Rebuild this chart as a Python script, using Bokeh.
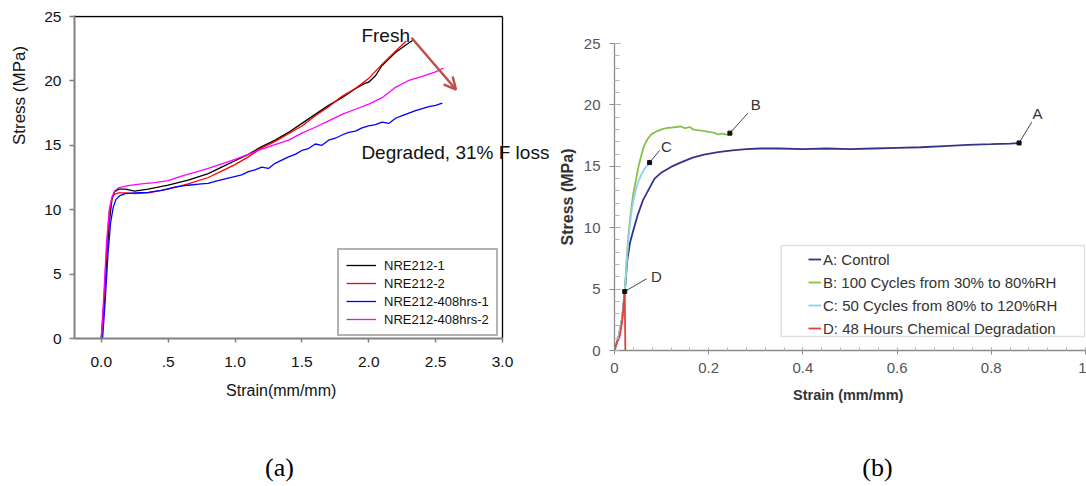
import math
from bokeh.plotting import figure
from bokeh.layouts import row, column
from bokeh.models import (Range1d, FixedTicker, Legend, LegendItem, Label, Arrow,
                          OpenHead, BoxAnnotation)
from bokeh.embed import file_html
from bokeh.resources import INLINE

# ================= Panel (a) data =================
a_x_ticks = [0.0, 0.5, 1.0, 1.5, 2.0, 2.5, 3.0]
a_x_tick_labels = ["0.0", ".5", "1.0", "1.5", "2.0", "2.5", "3.0"]
a_y_ticks = [0, 5, 10, 15, 20, 25]
a_x_start = -0.2
a_names = ["NRE212-1", "NRE212-2", "NRE212-408hrs-1", "NRE212-408hrs-2"]
a_colors = ["#000000", "#ff0000", "#0000ff", "#ff00ff"]

nre1_strain = [0.0, 0.02, 0.04, 0.06, 0.08, 0.10, 0.13, 0.18, 0.25, 0.35, 0.5, 0.65, 0.8, 0.9,
               1.0, 1.1, 1.2, 1.3, 1.4, 1.5, 1.6, 1.7, 1.8, 1.9, 1.97, 2.0, 2.05, 2.1, 2.2,
               2.28, 2.33]
nre1_stress = [0.0, 2.5, 6.0, 9.0, 10.8, 11.4, 11.6, 11.6, 11.45, 11.6, 11.9, 12.3, 12.8, 13.3,
               13.8, 14.3, 14.9, 15.4, 16.0, 16.7, 17.4, 18.1, 18.7, 19.4, 19.8, 19.9, 20.4,
               21.2, 22.2, 22.8, 23.15]

nre2_strain = [0.0, 0.02, 0.04, 0.06, 0.08, 0.10, 0.13, 0.18, 0.25, 0.35, 0.5, 0.65, 0.8, 0.9,
               1.0, 1.1, 1.2, 1.3, 1.4, 1.5, 1.6, 1.7, 1.8, 1.9, 2.0, 2.1, 2.2, 2.28]
nre2_stress = [0.0, 3.0, 7.0, 9.8, 10.9, 11.2, 11.3, 11.3, 11.25, 11.3, 11.6, 12.0, 12.5, 13.0,
               13.5, 14.1, 14.8, 15.3, 15.9, 16.5, 17.3, 18.0, 18.8, 19.4, 20.2, 21.3, 22.3,
               23.1]

deg1_strain = [0.01, 0.03, 0.05, 0.07, 0.09, 0.11, 0.14, 0.18, 0.25, 0.35,
               0.45, 0.55, 0.65, 0.75, 0.8, 0.85, 0.95, 1.05, 1.1, 1.15,
               1.2, 1.25, 1.3, 1.35, 1.4, 1.45, 1.5, 1.55, 1.6, 1.65,
               1.7, 1.75, 1.8, 1.85, 1.9, 1.95, 2.0, 2.05, 2.1, 2.15,
               2.2, 2.25, 2.3, 2.35, 2.4, 2.45, 2.5, 2.55]
deg1_stress = [0.0, 3.0, 6.5, 9.0, 10.2, 10.8, 11.1, 11.25, 11.3, 11.35,
               11.5, 11.75, 11.9, 12.0, 12.05, 12.2, 12.45, 12.7, 12.95, 13.1,
               13.3, 13.2, 13.6, 13.85, 14.1, 14.3, 14.6, 14.75, 15.1, 15.0,
               15.4, 15.55, 15.8, 16.0, 16.1, 16.35, 16.5, 16.6, 16.8, 16.7,
               17.1, 17.3, 17.5, 17.7, 17.85, 18.0, 18.1, 18.28]

deg2_strain = [0.0, 0.02, 0.04, 0.06, 0.08, 0.10, 0.13, 0.2, 0.3, 0.4, 0.5, 0.6, 0.7, 0.8, 0.9,
               1.0, 1.1, 1.2, 1.3, 1.4, 1.5, 1.6, 1.7, 1.8, 1.9, 2.0, 2.1, 2.2, 2.3, 2.4, 2.5,
               2.56]
deg2_stress = [0.0, 3.5, 7.5, 10.0, 11.0, 11.45, 11.7, 11.87, 12.0, 12.1, 12.25, 12.6, 12.9,
               13.2, 13.55, 13.9, 14.3, 14.7, 15.05, 15.4, 15.95, 16.4, 16.9, 17.4, 17.8, 18.2,
               18.7, 19.5, 20.05, 20.35, 20.7, 21.0]

a_curves = [(nre1_strain, nre1_stress), (nre2_strain, nre2_stress),
            (deg1_strain, deg1_stress), (deg2_strain, deg2_stress)]

a_fresh_text = "Fresh"
a_fresh_xy = (1.945, 23.5)
a_degraded_text = "Degraded, 31% F loss"
a_degraded_xy = (1.945, 14.46)
a_arrow_start = (2.32, 23.35)
a_arrow_end = (2.652, 19.33)

# ================= Panel (b) data =================
b_x_ticks = [0.0, 0.2, 0.4, 0.6, 0.8, 1.0]
b_x_tick_labels = ["0", "0.2", "0.4", "0.6", "0.8", "1"]
b_y_ticks = [0, 5, 10, 15, 20, 25]
b_names = ["A: Control", "B: 100 Cycles from 30% to 80%RH",
           "C: 50 Cycles from 80% to 120%RH", "D: 48 Hours Chemical Degradation"]
b_letters = ["A", "B", "C", "D"]
b_colors = ["#34338a", "#84c24a", "#8fd2ee", "#e2423a"]

ctrl_strain = [0.0, 0.008, 0.016, 0.022, 0.027, 0.033, 0.04, 0.049, 0.06, 0.071, 0.085, 0.1,
               0.12, 0.14, 0.166, 0.19, 0.22, 0.25, 0.28, 0.31, 0.35, 0.4, 0.45, 0.5, 0.55,
               0.6, 0.65, 0.7, 0.75, 0.8, 0.84, 0.859]
ctrl_stress = [0.0, 1.0, 2.6, 4.8, 7.3, 8.8, 9.8, 11.0, 12.2, 13.0, 14.0, 14.5, 14.95, 15.3,
               15.7, 15.95, 16.15, 16.3, 16.4, 16.45, 16.45, 16.4, 16.45, 16.4, 16.45, 16.5,
               16.55, 16.65, 16.75, 16.8, 16.85, 16.9]

rh1_strain = [0.0, 0.008, 0.016, 0.022, 0.026, 0.03, 0.035, 0.04, 0.046, 0.051, 0.057, 0.062,
              0.07, 0.078, 0.09, 0.1, 0.11, 0.12, 0.132, 0.14, 0.15, 0.16, 0.167, 0.175,
              0.185, 0.2, 0.21, 0.22, 0.23, 0.24, 0.245]
rh1_stress = [0.0, 1.0, 2.6, 4.8, 7.5, 9.6, 11.4, 12.8, 14.0, 15.0, 15.9, 16.6, 17.2, 17.6,
              17.85, 18.0, 18.1, 18.15, 18.2, 18.25, 18.1, 18.2, 18.0, 17.95, 17.9, 17.8,
              17.75, 17.6, 17.66, 17.55, 17.7]

rh2_strain = [0.0, 0.008, 0.016, 0.022, 0.026, 0.03, 0.035, 0.04, 0.046, 0.052, 0.058, 0.064,
              0.07, 0.0745]
rh2_stress = [0.0, 1.0, 2.6, 4.8, 7.3, 9.3, 11.0, 12.2, 13.2, 13.9, 14.4, 14.8, 15.1, 15.3]

chem_strain = [0.0, 0.005, 0.01, 0.0126, 0.016, 0.018, 0.02, 0.0217, 0.0225, 0.023]
chem_stress = [0.0, 0.7, 1.0, 1.5, 2.3, 3.0, 4.0, 4.8, 2.0, 0.0]

b_curves = [(ctrl_strain, ctrl_stress), (rh1_strain, rh1_stress),
            (rh2_strain, rh2_stress), (chem_strain, chem_stress)]

# letter label positions and leader-line ends (data units)
b_letter_x = [0.898, 0.300, 0.110, 0.089]
b_letter_y = [19.28, 20.03, 16.6, 6.0]
b_leader_x = [0.886, 0.283, 0.096, 0.068]
b_leader_y = [18.6, 19.32, 16.3, 5.84]

caption_a = "(a)"
caption_b = "(b)"
a_xlabel = "Strain(mm/mm)"
a_ylabel = "Stress (MPa)"
b_xlabel = "Strain (mm/mm)"
b_ylabel = "Stress (MPa)"

SANS = "Liberation Sans"
SERIF = "Liberation Serif"

# layout (pixels)
TOP_H = 380
CAP_H = 106
LBL_W = 33
A_W = 522
B_W = 531
A_FRAME_W = A_W - 41          # frame runs to the right edge so the note text fits
A_PX_PER_UNIT = 428 / 3.2


def no_align(fig):
    if "frame_align" in fig.properties():
        fig.frame_align = False


# ================= Figure (a) =================
a_x_end = a_x_start + A_FRAME_W / A_PX_PER_UNIT
a_y_end = a_y_ticks[-1] * 323 / 322
pA = figure(width=A_W, height=TOP_H, x_range=Range1d(a_x_start, a_x_end),
            y_range=Range1d(0, a_y_end),
            output_backend="svg", toolbar_location=None,
            min_border_left=41, min_border_right=0, min_border_top=15, min_border_bottom=42)
no_align(pA)
pA.grid.visible = False
pA.outline_line_color = None
pA.background_fill_color = "white"
pA.border_fill_color = "white"

pA.xaxis.ticker = FixedTicker(ticks=a_x_ticks)
pA.xaxis.major_label_overrides = dict(zip(a_x_ticks, a_x_tick_labels))
pA.xaxis.bounds = (a_x_start, a_x_ticks[-1])
pA.yaxis.ticker = FixedTicker(ticks=a_y_ticks)
for ax in (pA.xaxis[0], pA.yaxis[0]):
    ax.axis_line_color = "#808080"
    ax.axis_line_width = 2
    ax.major_tick_line_color = "#808080"
    ax.major_tick_line_width = 1.5
    ax.major_tick_in = 0
    ax.minor_tick_line_color = None
    ax.major_label_text_font = SANS
    ax.major_label_text_font_size = "15.5px"
    ax.major_label_text_color = "#111111"
pA.xaxis.major_tick_out = 4
pA.xaxis.major_label_standoff = 14
pA.yaxis.major_tick_out = 5
pA.yaxis.major_label_standoff = 8

# top and right sides of the box
box_x0 = [a_x_start, a_x_ticks[-1]]
box_y0 = [a_y_ticks[-1], a_y_ticks[-1]]
box_x1 = [a_x_ticks[-1], a_x_ticks[-1]]
box_y1 = [a_y_ticks[-1], a_y_ticks[0]]
pA.segment(x0=box_x0, y0=box_y0, x1=box_x1, y1=box_y1, line_color="#000000", line_width=1.3)

a_items = []
for (xs, ys), name, col in zip(a_curves, a_names, a_colors):
    r = pA.line(xs, ys, line_color=col, line_width=1.3)
    a_items.append(LegendItem(label=name, renderers=[r]))

legA = Legend(items=a_items, location=(263, 2), padding=7, spacing=2,
              glyph_width=30, glyph_height=16, label_height=16, label_standoff=8,
              label_text_font=SANS, label_text_font_size="13px", label_text_color="#111111",
              border_line_color="#666666", border_line_width=2,
              background_fill_color="white", background_fill_alpha=1.0, margin=0)
pA.add_layout(legA)

pA.add_layout(Label(x=a_fresh_xy[0], y=a_fresh_xy[1], text=a_fresh_text, text_font=SANS,
                    text_font_size="19px", text_color="#111111", text_align="left",
                    text_baseline="alphabetic"))
pA.add_layout(Label(x=a_degraded_xy[0], y=a_degraded_xy[1], text=a_degraded_text,
                    text_font=SANS, text_font_size="19px", text_color="#111111",
                    text_align="left", text_baseline="alphabetic"))
pA.add_layout(Arrow(end=OpenHead(size=12, line_color="#bf4f48", line_width=2.5),
                    x_start=a_arrow_start[0], y_start=a_arrow_start[1],
                    x_end=a_arrow_end[0], y_end=a_arrow_end[1],
                    line_color="#bf4f48", line_width=2.5))

# ================= y-label strip for (a) =================
pL = figure(width=LBL_W, height=TOP_H, x_range=Range1d(0, LBL_W), y_range=Range1d(0, TOP_H),
            x_axis_type=None, y_axis_type=None, output_backend="svg", toolbar_location=None,
            min_border=0)
no_align(pL)
pL.grid.visible = False
pL.outline_line_color = None
pL.add_layout(Label(x=19, y=285, text=a_ylabel, angle=math.pi / 2, text_font=SANS,
                    text_font_size="17px", text_color="#111111", text_align="center",
                    text_baseline="middle"))

# ================= Figure (b) =================
pB = figure(width=B_W, height=TOP_H, x_range=Range1d(b_x_ticks[0], b_x_ticks[-1]),
            y_range=Range1d(0, b_y_ticks[-1]),
            output_backend="svg", toolbar_location=None,
            min_border_left=56, min_border_right=1, min_border_top=43, min_border_bottom=30)
no_align(pB)
pB.grid.visible = False
pB.outline_line_color = None
pB.background_fill_color = "white"
pB.border_fill_color = "white"

pB.xaxis.ticker = FixedTicker(ticks=b_x_ticks, minor_ticks=[round(i * 0.04, 2) for i in range(26)])
pB.xaxis.major_label_overrides = dict(zip(b_x_ticks, b_x_tick_labels))
pB.yaxis.ticker = FixedTicker(ticks=b_y_ticks, minor_ticks=list(range(0, 26)))
for ax in (pB.xaxis[0], pB.yaxis[0]):
    ax.axis_line_color = "#8a8a8a"
    ax.axis_line_width = 1.3
    ax.major_tick_line_color = "#8a8a8a"
    ax.minor_tick_line_color = "#b5b5b5"
    ax.major_label_text_font = SANS
    ax.major_label_text_font_size = "15px"
    ax.major_label_text_color = "#555555"
pB.xaxis.major_tick_in = 3
pB.xaxis.major_tick_out = 4
pB.xaxis.minor_tick_in = 3
pB.xaxis.minor_tick_out = 0
pB.xaxis.major_label_standoff = 8
pB.yaxis.major_tick_in = 6
pB.yaxis.major_tick_out = 5
pB.yaxis.minor_tick_in = 5
pB.yaxis.minor_tick_out = 0
pB.yaxis.major_label_standoff = 9
pB.yaxis.axis_label = b_ylabel
pB.yaxis.axis_label_standoff = 5
pB.yaxis.axis_label_text_font = SANS
pB.yaxis.axis_label_text_font_size = "16px"
pB.yaxis.axis_label_text_font_style = "bold"
pB.yaxis.axis_label_text_color = "#333333"

b_items = []
for (xs, ys), name, col in zip(b_curves, b_names, b_colors):
    r = pB.line(xs, ys, line_color=col, line_width=1.8)
    b_items.append(LegendItem(label=name, renderers=[r]))

# end points (D: its peak) with small black markers and leader lines
end_x = [ctrl_strain[-1], rh1_strain[-1], rh2_strain[-1],
         chem_strain[chem_stress.index(max(chem_stress))]]
end_y = [ctrl_stress[-1], rh1_stress[-1], rh2_stress[-1], max(chem_stress)]
pB.segment(x0=end_x, y0=end_y, x1=b_leader_x, y1=b_leader_y, line_color="#444444",
           line_width=1)
pB.scatter(x=end_x, y=end_y, marker="square", size=4, color="#111111")
for lx, ly, letter in zip(b_letter_x, b_letter_y, b_letters):
    pB.add_layout(Label(x=lx, y=ly, text=letter, text_font=SANS, text_font_size="15px",
                        text_color="#333333", text_align="center", text_baseline="middle"))

pB.add_layout(BoxAnnotation(left=0.354, right=0.998, bottom=1.14, top=8.55,
                            fill_color="white", fill_alpha=1.0, line_color="#999999",
                            line_width=1.5))
legB = Legend(items=b_items, location=(194, 12), padding=2, spacing=3,
              glyph_width=13, glyph_height=20, label_height=20, label_standoff=2,
              label_text_font=SANS, label_text_font_size="15px", label_text_color="#333333",
              border_line_color=None, background_fill_alpha=0.0, margin=0)
pB.add_layout(legB)

# ================= bottom strip: x labels and captions =================
W_ALL = LBL_W + A_W + B_W
pC = figure(width=W_ALL, height=CAP_H, x_range=Range1d(0, W_ALL), y_range=Range1d(0, CAP_H),
            x_axis_type=None, y_axis_type=None, output_backend="svg", toolbar_location=None,
            min_border=0)
no_align(pC)
pC.grid.visible = False
pC.outline_line_color = None
pC.add_layout(Label(x=280.7, y=96, text=a_xlabel, text_font=SANS, text_font_size="16px",
                    text_color="#111111", text_align="center", text_baseline="middle"))
pC.add_layout(Label(x=847.7, y=92, text=b_xlabel, text_font=SANS, text_font_size="14.5px",
                    text_font_style="bold", text_color="#333333", text_align="center",
                    text_baseline="middle"))
pC.add_layout(Label(x=279, y=19, text=caption_a, text_font=SERIF, text_font_size="26px",
                    text_color="#000000", text_align="center", text_baseline="middle"))
pC.add_layout(Label(x=877, y=19, text=caption_b, text_font=SERIF, text_font_size="26px",
                    text_color="#000000", text_align="center", text_baseline="middle"))

layout = column(row(pL, pA, pB), pC)
open("out.html", "w").write(file_html(layout, INLINE))
